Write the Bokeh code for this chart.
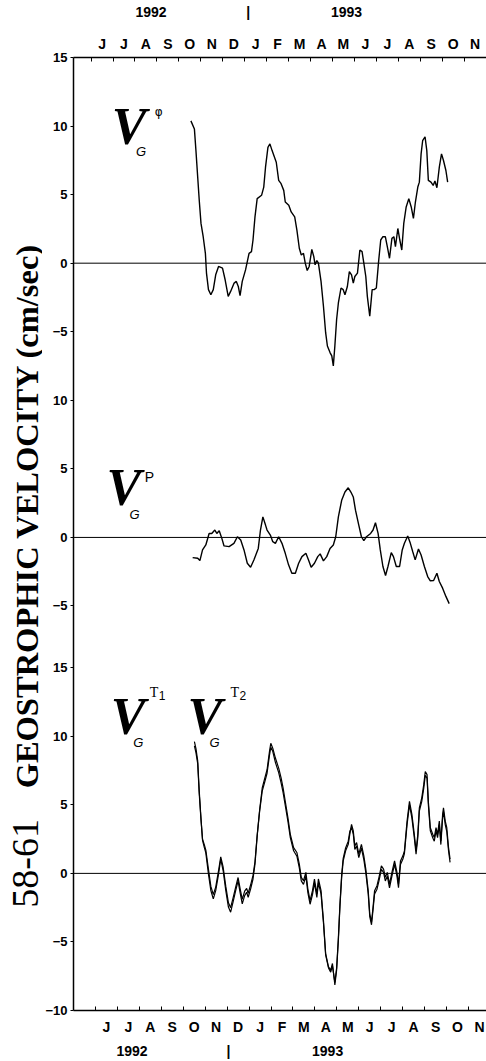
import numpy as np
from bokeh.plotting import figure
from bokeh.layouts import row
from bokeh.models import Range1d, FixedTicker, LinearAxis, Span, Label
from bokeh.embed import file_html
from bokeh.resources import INLINE

# ---------------- data (x in months since 1 May 1992) ----------------
month_letters = ["J", "J", "A", "S", "O", "N", "D", "J", "F",
                 "M", "A", "M", "J", "J", "A", "S", "O", "N"]
year_top_pos = [3.53, 7.96, 12.44]
year_bot_pos = [2.67, 7.06, 11.58]
year_texts = ["1992", "|", "1993"]

phi_month = [5.35, 5.51, 5.58, 5.66, 5.73, 5.81, 5.91, 6.01, 6.06, 6.15,
             6.26, 6.37, 6.48, 6.61, 6.79, 6.91, 7.05, 7.16, 7.32, 7.42,
             7.51, 7.59, 7.69, 7.84, 8.00, 8.11, 8.18, 8.27, 8.37, 8.57,
             8.67, 8.75, 8.86, 8.95, 9.05, 9.24, 9.35, 9.46, 9.58, 9.65,
             9.81, 9.92, 10.08, 10.18, 10.29, 10.38, 10.48, 10.56, 10.65, 10.74,
             10.86, 10.95, 11.01, 11.09, 11.16, 11.28, 11.39, 11.49, 11.57, 11.69,
             11.77, 11.84, 11.91, 11.99, 12.07, 12.19, 12.29, 12.37, 12.48, 12.57,
             12.67, 12.75, 12.82, 12.94, 13.05, 13.15, 13.23, 13.32, 13.39, 13.50,
             13.61, 13.70, 13.80, 13.91, 14.00, 14.10, 14.21, 14.30, 14.40, 14.51,
             14.60, 14.67, 14.78, 14.87, 14.96, 15.05, 15.16, 15.28, 15.39, 15.49,
             15.58, 15.69, 15.76, 15.84, 15.91, 16.02, 16.10, 16.17, 16.29, 16.39,
             16.47, 16.56, 16.67, 16.77, 16.86, 16.97, 17.05]
phi_vel = [10.38, 9.78, 8.2, 6.27, 4.59, 2.9, 1.93, 0.72, -0.72, -1.93,
           -2.3, -1.93, -0.85, -0.24, -0.36, -1.21, -2.42, -2.06, -1.45, -1.33,
           -1.7, -2.37, -1.33, -0.49, 0.72, 0.84, 1.69, 3.38, 4.71, 4.95,
           5.55, 7.0, 8.45, 8.7, 8.21, 7.36, 6.04, 5.8, 5.31, 4.46,
           4.22, 3.74, 3.38, 2.41, 1.09, 0.6, 0.72, 0.0, -0.53, -0.24,
           1.01, 0.48, -0.12, 0.19, 0.0, -1.33, -3.14, -5.07, -6.04, -6.52,
           -6.76, -7.49, -6.04, -4.11, -2.9, -1.81, -1.93, -2.3, -1.7, -0.61,
           -0.85, -1.45, -0.97, -0.72, 0.96, 0.84, 0.0, -0.97, -2.42, -3.87,
           -1.93, -1.93, -1.81, 0.24, 1.69, 1.93, 1.93, 1.2, 0.36, 1.81,
           1.93, 1.2, 2.53, 1.69, 0.96, 2.9, 4.1, 4.71, 4.1, 3.26,
           4.46, 5.55, 5.91, 7.97, 8.93, 9.22, 8.21, 6.04, 5.91, 5.67,
           5.99, 5.5, 7.0, 7.97, 7.49, 6.76, 5.91]

p_month = [5.43, 5.66, 5.76, 5.88, 6.03, 6.18, 6.30, 6.44, 6.53, 6.64,
           6.76, 6.86, 7.09, 7.31, 7.47, 7.62, 7.77, 7.92, 8.07, 8.22,
           8.42, 8.52, 8.63, 8.75, 8.82, 8.97, 9.08, 9.20, 9.35, 9.50,
           9.65, 9.80, 9.95, 10.11, 10.26, 10.41, 10.59, 10.71, 10.83, 10.98,
           11.13, 11.24, 11.39, 11.54, 11.69, 11.84, 11.95, 12.07, 12.22, 12.37,
           12.52, 12.64, 12.75, 12.85, 13.00, 13.12, 13.23, 13.35, 13.54, 13.65,
           13.76, 13.88, 13.98, 14.10, 14.22, 14.33, 14.48, 14.58, 14.71, 14.86,
           14.98, 15.08, 15.23, 15.35, 15.46, 15.57, 15.72, 15.84, 15.99, 16.14,
           16.26, 16.41, 16.56, 16.67, 16.82, 16.97, 17.12]
p_vel = [-1.47, -1.52, -1.69, -0.91, -0.55, 0.29, 0.29, 0.54, 0.29, 0.49,
         -0.07, -0.62, -0.67, -0.43, 0.05, -0.19, -0.91, -1.88, -2.17, -1.64,
         -0.8, 0.54, 1.5, 0.9, 0.54, 0.17, -0.31, -0.43, 0.05, -0.43,
         -1.16, -2.0, -2.61, -2.61, -1.88, -1.4, -1.16, -1.64, -2.17, -1.88,
         -1.4, -1.2, -1.71, -1.4, -0.8, -0.55, 0.05, 1.5, 2.71, 3.31,
         3.62, 3.31, 2.95, 1.99, 0.9, 0.05, -0.24, 0.05, 0.29, 0.54,
         1.07, 0.29, -0.91, -2.12, -2.78, -2.12, -1.11, -1.4, -2.12, -2.12,
         -0.91, -0.43, 0.1, -0.43, -1.04, -1.64, -0.84, -1.28, -2.12, -2.85,
         -3.16, -3.14, -2.61, -3.21, -3.7, -4.3, -4.83]

t_month = [5.51, 5.58, 5.66, 5.73, 5.81, 5.88, 5.96, 6.03, 6.15, 6.26,
           6.37, 6.48, 6.61, 6.71, 6.82, 6.94, 7.06, 7.16, 7.27, 7.39,
           7.50, 7.59, 7.69, 7.80, 7.89, 7.96, 8.07, 8.18, 8.27, 8.37,
           8.48, 8.60, 8.72, 8.82, 8.93, 8.99, 9.08, 9.20, 9.35, 9.46,
           9.55, 9.65, 9.77, 9.88, 10.03, 10.18, 10.29, 10.38, 10.48, 10.59,
           10.68, 10.78, 10.89, 10.98, 11.09, 11.16, 11.28, 11.39, 11.49, 11.62,
           11.72, 11.80, 11.91, 11.99, 12.07, 12.14, 12.22, 12.29, 12.40, 12.52,
           12.59, 12.67, 12.75, 12.82, 12.90, 13.00, 13.12, 13.23, 13.32, 13.43,
           13.50, 13.58, 13.65, 13.72, 13.83, 13.92, 14.03, 14.13, 14.21, 14.30,
           14.40, 14.51, 14.63, 14.74, 14.81, 14.90, 15.01, 15.08, 15.20, 15.31,
           15.42, 15.53, 15.61, 15.69, 15.76, 15.87, 15.96, 16.03, 16.11, 16.17,
           16.26, 16.37, 16.44, 16.52, 16.59, 16.67, 16.74, 16.82, 16.86, 16.94,
           17.01, 17.09, 17.16]
t1_vel = [9.6, 9.1, 8.2, 6.0, 4.0, 2.4, 1.9, 1.5, -0.05, -1.26,
          -1.86, -1.26, -0.05, 1.04, 0.19, -1.26, -2.46, -2.83, -2.1, -1.26,
          -0.54, -1.38, -2.22, -1.62, -1.38, -1.74, -1.14, -0.41, 0.67, 2.7,
          4.6, 6.23, 6.96, 7.56, 8.88, 9.49, 9.13, 8.41, 7.68, 6.96,
          6.23, 5.26, 4.06, 2.85, 1.88, 1.52, 0.67, -0.29, -0.54, 0.07,
          -1.14, -1.98, -1.26, -0.41, -1.5, -0.41, -1.26, -3.43, -5.85, -6.81,
          -7.06, -6.57, -8.14, -7.06, -4.88, -2.46, -0.29, 0.91, 1.64, 2.12,
          2.85, 3.57, 3.09, 2.0, 2.25, 1.4, 2.12, 1.28, 0.31, -1.26,
          -2.95, -3.55, -2.46, -1.26, -0.9, -0.29, 0.55, 0.31, -0.29, 0.07,
          -0.78, 0.07, 0.91, 0.07, -0.78, 0.91, 1.28, 1.64, 3.81, 5.26,
          4.3, 2.85, 1.64, 2.85, 4.78, 5.51, 6.47, 7.43, 7.2, 5.26,
          3.33, 2.85, 2.61, 3.33, 2.85, 3.81, 2.36, 4.3, 4.78, 3.81,
          3.33, 1.88, 1.04]
t2_vel = [9.3, 8.8, 8.0, 5.8, 3.9, 2.5, 2.1, 1.7, 0.3, -0.95,
          -1.55, -1.0, 0.2, 1.2, 0.45, -0.95, -2.15, -2.5, -1.8, -1.0,
          -0.3, -1.1, -1.9, -1.3, -1.1, -1.45, -0.85, -0.15, 0.85, 2.8,
          4.5, 6.0, 6.7, 7.3, 8.6, 9.2, 8.9, 8.1, 7.35, 6.6,
          5.9, 4.95, 3.8, 2.6, 1.65, 1.25, 0.4, -0.55, -0.8, -0.2,
          -1.4, -2.25, -1.55, -0.7, -1.75, -0.7, -1.5, -3.6, -5.95, -6.9,
          -7.2, -6.75, -7.95, -6.9, -4.7, -2.3, -0.1, 1.1, 1.85, 2.35,
          3.05, 3.35, 2.85, 1.75, 2.0, 1.15, 1.85, 1.0, 0.05, -1.5,
          -3.15, -3.75, -2.65, -1.5, -1.15, -0.55, 0.3, 0.05, -0.55, -0.2,
          -1.05, -0.2, 0.65, -0.2, -1.05, 0.65, 1.05, 1.45, 3.55, 5.0,
          4.05, 2.6, 1.4, 2.6, 4.55, 5.25, 6.2, 7.15, 6.95, 5.0,
          3.1, 2.6, 2.35, 3.1, 2.6, 3.55, 2.1, 4.05, 4.5, 3.55,
          3.05, 1.65, 0.8]

# panel offsets on the shared vertical scale
OFF_TOP, OFF_MID, OFF_BOT = 0.0, -20.0, -44.5
y_tick_vals = [15, 10, 5, 0, -5, 10, 5, 0, -5, 15, 10, 5, 0, -5, -10]
y_tick_off = [OFF_TOP] * 5 + [OFF_MID] * 4 + [OFF_BOT] * 6

FONT = "Liberation Sans"
SERIF = "Liberation Serif"
H = 1061
BT, BB = 57, 44          # top / bottom borders of the plotting frame
yr = Range1d(-54.5, 15)

# ---------------- left strip with the vertical title ----------------
STRIP = 42
t = figure(width=STRIP, height=H, output_backend="svg", toolbar_location=None,
           x_range=Range1d(0, STRIP), y_range=yr,
           min_border_left=0, min_border_right=0, min_border_top=BT,
           min_border_bottom=BB, x_axis_location=None, y_axis_location=None)
t.xgrid.visible = False
t.ygrid.visible = False
t.outline_line_color = None
t.add_layout(Label(x=26, y=-38.3, text="GEOSTROPHIC VELOCITY (cm/sec)",
                   text_font=SERIF, text_font_size="32.5px", text_font_style="bold",
                   text_align="left", text_baseline="middle",
                   angle=np.pi / 2, text_color="black"))
t.add_layout(Label(x=25, y=-47.0, text="58-61", text_font=SERIF,
                   text_font_size="38px", text_align="left",
                   text_baseline="middle", angle=np.pi / 2,
                   text_color="black"))

# ---------------- main plot ----------------
p = figure(width=486 - STRIP, height=H, output_backend="svg", toolbar_location=None,
           x_range=Range1d(0, 18.82), y_range=yr,
           min_border_left=70 - STRIP, min_border_right=0, min_border_top=BT,
           min_border_bottom=BB, x_axis_location=None, y_axis_location=None)
p.xgrid.visible = False
p.ygrid.visible = False
p.outline_line_color = None


def month_axis(shift, standoff):
    bounds = [i + shift for i in range(1, 19)]
    mids = [i + 0.5 + shift for i in range(1, 19)]
    ax = LinearAxis(ticker=FixedTicker(ticks=mids, minor_ticks=bounds),
                    major_label_overrides={m: l for m, l in zip(mids, month_letters)})
    ax.major_tick_line_color = None
    ax.major_tick_out = 0
    ax.major_tick_in = 0
    ax.minor_tick_in = 4
    ax.minor_tick_out = 0
    ax.minor_tick_line_color = "black"
    ax.minor_tick_line_width = 1
    ax.axis_line_color = "black"
    ax.axis_line_width = 1.5
    ax.major_label_standoff = standoff
    ax.major_label_text_font = FONT
    ax.major_label_text_font_size = "14px"
    ax.major_label_text_font_style = "bold"
    ax.major_label_text_color = "black"
    return ax


def year_axis(pos, standoff):
    ax = LinearAxis(ticker=FixedTicker(ticks=pos, minor_ticks=[]),
                    major_label_overrides={x: s for x, s in zip(pos, year_texts)})
    ax.axis_line_color = None
    ax.major_tick_line_color = None
    ax.minor_tick_line_color = None
    ax.major_tick_out = 0
    ax.major_tick_in = 0
    ax.major_label_standoff = standoff
    ax.major_label_text_font = FONT
    ax.major_label_text_font_size = "14px"
    ax.major_label_text_font_style = "bold"
    ax.major_label_text_color = "black"
    return ax


p.add_layout(month_axis(0.0, 8), "below")
p.add_layout(year_axis(year_bot_pos, 5), "below")
p.add_layout(month_axis(-0.2, 6), "above")
p.add_layout(year_axis(year_top_pos, 13), "above")

y_ticks = [v + o for v, o in zip(y_tick_vals, y_tick_off)]
y_labels = [str(v).replace("-", "\u2212") for v in y_tick_vals]
left_ax = LinearAxis(ticker=FixedTicker(ticks=y_ticks, minor_ticks=[]),
                     major_label_overrides={k: l for k, l in zip(y_ticks, y_labels)})
left_ax.major_tick_out = 3
left_ax.major_tick_in = 0
left_ax.major_tick_line_color = "black"
left_ax.axis_line_color = "black"
left_ax.axis_line_width = 1.5
left_ax.major_label_standoff = 3
left_ax.major_label_text_font = FONT
left_ax.major_label_text_font_size = "13px"
left_ax.major_label_text_font_style = "bold"
left_ax.major_label_text_color = "black"
p.add_layout(left_ax, "left")

# zero lines
for off in (OFF_TOP, OFF_MID, OFF_BOT):
    p.add_layout(Span(location=off, dimension="width", line_color="black", line_width=1))

# ---------------- series ----------------
p.line(phi_month, [v + OFF_TOP for v in phi_vel], line_color="black", line_width=1.4)
p.line(p_month, [v + OFF_MID for v in p_vel], line_color="black", line_width=1.4)
p.line(t_month, [v + OFF_BOT for v in t1_vel], line_color="black", line_width=1.2)
p.line(t_month, [v + OFF_BOT for v in t2_vel], line_color="black", line_width=1.2)


# ---------------- panel symbols ----------------
def lab(x, y, text, font=FONT, size="13px", style="normal"):
    p.add_layout(Label(x=x, y=y, text=text, text_font=font, text_font_size=size,
                       text_font_style=style, text_align="left",
                       text_baseline="alphabetic", text_color="black"))


VS = "52px"
VUP = 1.2
lab(1.74, 8.77 + VUP, "V", font=SERIF, size=VS, style="bold italic")
lab(2.85, 8.12, "G", size="13px", style="italic")
lab(3.70, 11.02, "\u03c6", font="DejaVu Sans", size="12px")

lab(1.50, -17.58 + VUP, "V", font=SERIF, size=VS, style="bold italic")
lab(2.55, -18.30, "G", size="13px", style="italic")
lab(3.25, -15.62, "P", size="14px")

lab(1.70, -34.23 + VUP, "V", font=SERIF, size=VS, style="bold italic")
lab(2.72, -34.95, "G", size="13px", style="italic")
lab(3.48, -31.33, "T", font=SERIF, size="14px")
lab(3.89, -31.55, "1", size="12px")

lab(5.20, -34.23 + VUP, "V", font=SERIF, size=VS, style="bold italic")
lab(6.20, -34.95, "G", size="13px", style="italic")
lab(7.15, -31.33, "T", font=SERIF, size="14px")
lab(7.56, -31.55, "2", size="12px")

open("out.html", "w").write(file_html(row(t, p), INLINE))
